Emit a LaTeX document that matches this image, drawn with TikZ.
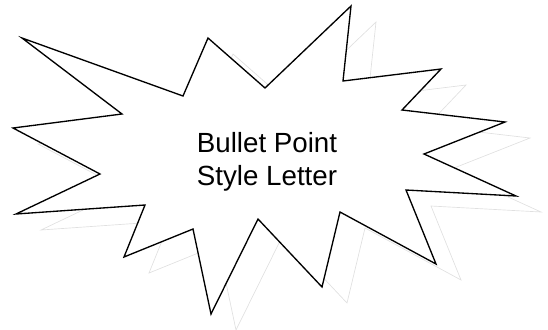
\documentclass[tikz,border=0pt]{standalone}
\usepackage{fontspec}
\setmainfont{Liberation Sans}
\usetikzlibrary{positioning}

\begin{document}
\begin{tikzpicture}[
  x=0.75pt, y=-0.75pt,
  burst/.style={draw=black, line width=1pt, line join=miter, fill=white},
  shade/.style={draw=black!12, line width=0.5pt},
  lab/.style={align=center, inner sep=0pt, font=\fontsize{20.8}{24.8}\selectfont},
]
\useasboundingbox (0,0) rectangle (548,329);
% faint shadow behind the burst
\draw[shade, shift={(25,16)}] (22,38) -- (183,96) -- (208,38) -- (265,88) -- (351,6) -- (343,81)
  -- (441,69) -- (402,110) -- (505,122) -- (424,154) -- (516,196) -- (406,190)
  -- (436,264) -- (340,212) -- (322,287) -- (258,219) -- (211,314) -- (193,229)
  -- (124,257) -- (145,205) -- (16,214) -- (100,174) -- (13,128) -- (122,114) -- cycle;
% the burst
\draw[burst] (22,38) -- (183,96) -- (208,38) -- (265,88) -- (351,6) -- (343,81)
  -- (441,69) -- (402,110) -- (505,122) -- (424,154) -- (516,196) -- (406,190)
  -- (436,264) -- (340,212) -- (322,287) -- (258,219) -- (211,314) -- (193,229)
  -- (124,257) -- (145,205) -- (16,214) -- (100,174) -- (13,128) -- (122,114) -- cycle;
\node[lab] (txt) at (267,162) {Bullet Point\\Style Letter};
\end{tikzpicture}
\end{document}
